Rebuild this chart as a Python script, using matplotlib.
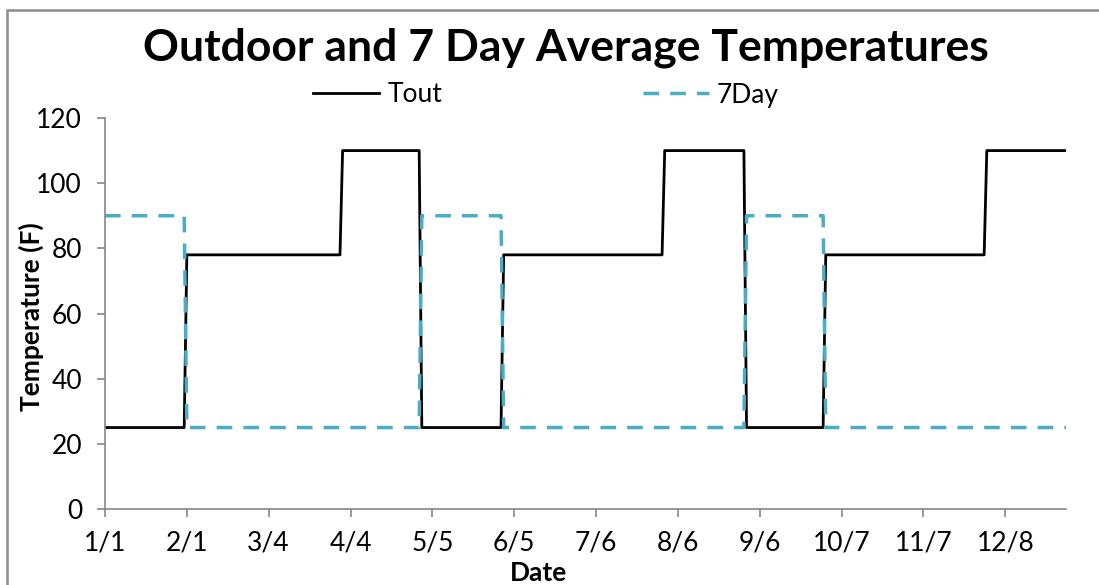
import numpy as np
import matplotlib
matplotlib.use("Agg")
import matplotlib.pyplot as plt
from matplotlib.patches import Rectangle

# monthly values (each month held constant day by day), non-leap year
month_days = [31, 28, 31, 30, 31, 30, 31, 31, 30, 31, 30, 31]
tout_monthly = [25, 78, 78, 110, 25, 78, 78, 110, 25, 78, 78, 110]
day7_monthly = [90, 25, 25, 25, 90, 25, 25, 25, 90, 25, 25, 25]

tick_labels = ["1/1", "2/1", "3/4", "4/4", "5/5", "6/5", "7/6", "8/6",
               "9/6", "10/7", "11/7", "12/8"]
tick_every = 31

tout = np.repeat(tout_monthly, month_days)
day7 = np.repeat(day7_monthly, month_days)
idx = np.arange(len(tout))

plt.rcParams['font.family'] = ['Lato', 'DejaVu Sans']

W, H = 1099, 585
fig = plt.figure(figsize=(W / 100, H / 100), dpi=100)
ax = fig.add_axes([105 / W, (H - 509) / H, 961 / W, 391 / H])

ax.plot(idx, tout, color="black", lw=2.0, label="Tout")
ax.plot(idx, day7, color="#4BACC6", lw=2.5, dashes=(4.5, 3.2), label="7Day")

ax.set_xlim(0, len(tout) - 1)
ax.set_ylim(0, 120)
ax.set_yticks(range(0, 121, 20))
ax.set_xticks(np.arange(0, len(tout), tick_every))
ax.set_xticklabels(tick_labels)

for s in ["top", "right"]:
    ax.spines[s].set_visible(False)
for s in ["left", "bottom"]:
    ax.spines[s].set_color("#868686")
    ax.spines[s].set_linewidth(1.2)
ax.tick_params(colors="#868686", labelcolor="black", labelsize=19, length=5.5, width=1.2)
ax.tick_params(axis="y", pad=11)
ax.tick_params(axis="x", pad=10)

ax.set_xlabel("Date", fontsize=19, fontweight="bold")
ax.xaxis.set_label_coords((539 - 105) / 961, (509 - 561) / 391)
ax.set_ylabel("Temperature (F)", fontsize=19, fontweight="bold")
ax.yaxis.set_label_coords((44 - 105) / 961, (509 - 317) / 391)

fig.text(566 / W, 1 - 60 / H, "Outdoor and 7 Day Average Temperatures",
         ha="center", va="baseline", fontsize=32, fontweight="bold")

fig.legend(loc="center", bbox_to_anchor=(546 / W, 1 - 95 / H), ncol=2, frameon=False,
           fontsize=19, handlelength=2.5, columnspacing=7.6, handletextpad=0.3)

fig.patches.append(Rectangle((7 / W, -0.05), 1.2, (H - 10) / H + 0.05,
                             transform=fig.transFigure, fill=False,
                             edgecolor="#8c8c8c", lw=1.8))

fig.savefig("out.png", dpi=100)
